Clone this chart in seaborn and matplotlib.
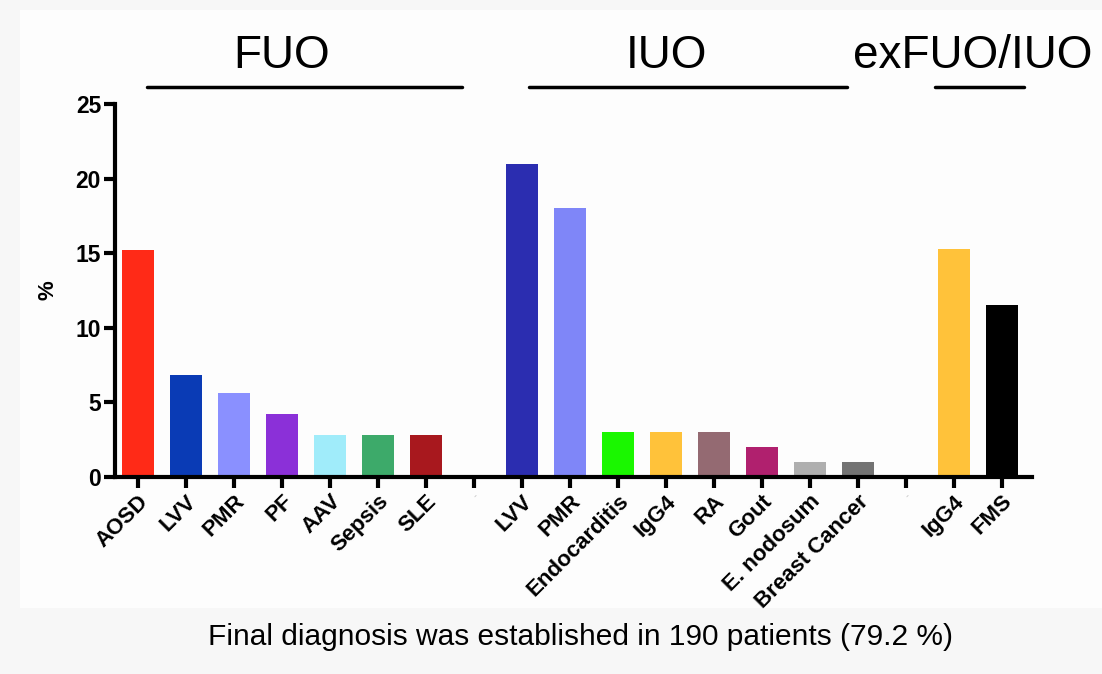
import matplotlib
matplotlib.use("Agg")
import matplotlib.pyplot as plt
import matplotlib.transforms as mtransforms
from matplotlib.patches import Rectangle
import seaborn as sns
import pandas as pd

# ---- data ----
labels = ["AOSD", "LVV", "PMR", "PF", "AAV", "Sepsis", "SLE", "-",
          "LVV", "PMR", "Endocarditis", "IgG4", "RA", "Gout", "E. nodosum", "Breast Cancer", "-",
          "IgG4", "FMS"]
values = [15.2, 6.85, 5.6, 4.2, 2.8, 2.8, 2.8, 0,
          21.0, 18.0, 3.0, 3.0, 3.0, 2.0, 1.0, 1.0, 0,
          15.3, 11.5]
colors = ["#FF2A17", "#0A3BB5", "#8A90FF", "#8B30D8", "#A0ECFA", "#3DAA6A", "#A8181E", "#FFFFFF",
          "#2B2DB0", "#7F86F8", "#1AF700", "#FFC23A", "#946A72", "#B0206E", "#AFAFAF", "#737373", "#FFFFFF",
          "#FFC23A", "#000000"]
groups = ["FUO", "IUO", "exFUO/IUO"]
group_spans = [(0.19, 6.75), (8.15, 14.77), (16.6, 18.46)]
group_centers = [3.0, 11.02, 17.4]
yticks = [0, 5, 10, 15, 20, 25]
caption = "Final diagnosis was established in 190 patients (79.2 %)"

sns.set_style("white")
plt.rcParams['font.family'] = ['Liberation Sans', 'DejaVu Sans']
plt.rcParams['text.color'] = 'black'
plt.rcParams['axes.labelcolor'] = 'black'
plt.rcParams['xtick.color'] = 'black'
plt.rcParams['ytick.color'] = 'black'

fig = plt.figure(figsize=(11.02, 6.74), dpi=100)
fig.patch.set_facecolor("#F7F7F7")
fig.patches.append(Rectangle((20/1102, 1-608/674), 1-20/1102, (608-10)/674,
                             transform=fig.transFigure, facecolor="#FDFDFD", edgecolor="none", zorder=-10))

ax = fig.add_axes([115/1102, 1-477/674, (1032-115)/1102, (477-104)/674])
ax.set_facecolor("none")

keys = [f"k{i}" for i in range(len(labels))]
df = pd.DataFrame({"key": keys, "value": values})
sns.barplot(data=df, x="key", y="value", hue="key", palette=dict(zip(keys, colors)),
            legend=False, width=0.67, ax=ax, saturation=1, linewidth=0)

ax.set_ylim(0, 25)
ax.set_xlim(-0.48, 18.63)
ax.set_yticks(yticks)
ax.set_yticklabels([str(t) for t in yticks], fontsize=16.5, fontweight="bold")
ax.set_xticks(range(len(labels)))
ax.set_xticklabels(labels, rotation=45, ha="right", rotation_mode="anchor",
                   fontsize=16, fontweight="bold")
for t, lab in zip(ax.get_xticklabels(), labels):
    if lab == "-":
        t.set_color("#CCCCCC")
        t.set_fontsize(7)
ax.set_xlabel("")
ax.set_ylabel("%", fontsize=16, fontweight="bold", labelpad=12)

for s in ["top", "right"]:
    ax.spines[s].set_visible(False)
for s in ["left", "bottom"]:
    ax.spines[s].set_linewidth(3)
    ax.spines[s].set_color("black")
ax.tick_params(axis="both", which="major", bottom=True, left=True, length=8, width=3,
               color="black", direction="out", pad=2)

trans = mtransforms.blended_transform_factory(ax.transData, ax.transAxes)
for g, (x0, x1), xc in zip(groups, group_spans, group_centers):
    ax.plot([x0, x1], [1.045, 1.045], color="black", lw=2.5, transform=trans, clip_on=False)
    ax.text(xc, 1.13, g, transform=trans, ha="center", va="center", fontsize=33, clip_on=False)

fig.text(580/1102, 1-637/674, caption, ha="center", va="center", fontsize=21.5)

fig.savefig("out.png", dpi=100, facecolor=fig.get_facecolor())
